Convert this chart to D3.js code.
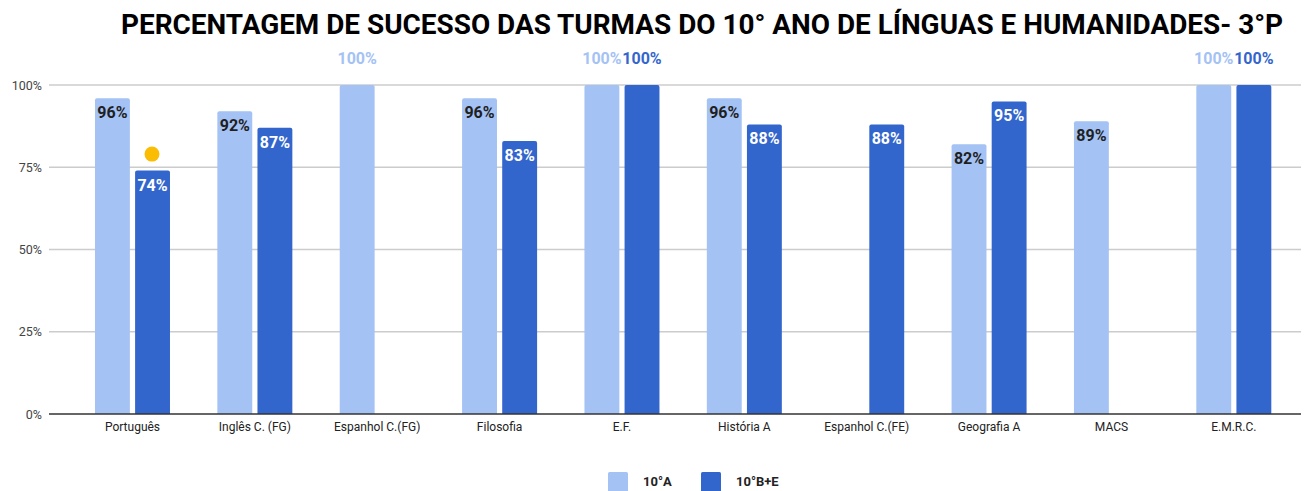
<!DOCTYPE html>
<html>
<head>
<meta charset="utf-8">
<script src="https://cdn.jsdelivr.net/npm/d3@7"></script>
<style>
  html, body { margin: 0; padding: 0; background: #fff; }
  svg { display: block; font-family: Roboto, "Noto Sans", sans-serif; }
</style>
</head>
<body>
<svg id="chart" width="1305" height="491"></svg>
<script>
// Subjects (categories) and success rates per class group (null = no value)
const categories = ["Português", "Inglês C. (FG)", "Espanhol C.(FG)", "Filosofia", "E.F.",
                    "História A", "Espanhol C.(FE)", "Geografia A", "MACS", "E.M.R.C."];
const seriesNames = ["10°A", "10°B+E"];
const values10A  = [96, 92, 100, 96, 100, 96, null, 82, 89, 100];
const values10BE = [74, 87, null, 83, 100, 88, 88, 95, null, 100];
const yTicks = [0, 25, 50, 75, 100];
const colors = ["#a4c2f4", "#3366cc"];
const labelInside = ["#1f1f1f", "#ffffff"];
const titleText = "PERCENTAGEM DE SUCESSO DAS TURMAS DO 10° ANO DE LÍNGUAS E HUMANIDADES- 3°P";
// Marker annotation next to the Português group
const markerPoint = { category: "Português", value: 79 };

const series = [values10A, values10BE];
const svg = d3.select("#chart");

const axisLeft = 49, axisRight = 1301;
const x = d3.scaleBand().domain(categories).range([71.3, 1295]).paddingInner(0).paddingOuter(0);
const x1 = d3.scaleBand().domain([0, 1]).range([x.bandwidth() / 2 - 37.5, x.bandwidth() / 2 + 37.5]).paddingInner(0.13);
const y = d3.scaleLinear().domain([0, 100]).range([414, 85]);

// Title
svg.append("text")
  .attr("x", 121).attr("y", 34)
  .attr("font-size", 27.5).attr("font-weight", "bold").attr("fill", "#000")
  .attr("textLength", 1162).attr("lengthAdjust", "spacingAndGlyphs")
  .text(titleText);

// Gridlines and y tick labels
const yAxis = svg.append("g");
yTicks.forEach(t => {
  if (t > 0) {
    yAxis.append("line")
      .attr("x1", axisLeft).attr("x2", axisRight)
      .attr("y1", y(t)).attr("y2", y(t))
      .attr("stroke", "#cccccc").attr("stroke-width", 1.3);
  }
  yAxis.append("text")
    .attr("x", 42).attr("y", y(t) + 4.5)
    .attr("text-anchor", "end")
    .attr("font-size", 12.5).attr("fill", "#444")
    .text(t + "%");
});

// Bars
const barsG = svg.append("g");
categories.forEach((cat, i) => {
  series.forEach((vals, s) => {
    const v = vals[i];
    if (v == null) return;
    const bx = x(cat) + x1(s);
    const bw = x1.bandwidth();
    const top = y(v), bottom = y(0), r = 2;
    barsG.append("path")
      .attr("d", `M${bx},${bottom} L${bx},${top + r} Q${bx},${top} ${bx + r},${top} L${bx + bw - r},${top} Q${bx + bw},${top} ${bx + bw},${top + r} L${bx + bw},${bottom} Z`)
      .attr("fill", colors[s]);
    const full = v >= 100;
    barsG.append("text")
      .attr("x", bx + bw / 2)
      .attr("y", full ? top - 21 : top + 20)
      .attr("text-anchor", "middle")
      .attr("font-size", 16).attr("font-weight", "bold")
      .attr("fill", full ? colors[s] : labelInside[s])
      .text(v + "%");
  });
});

// Baseline
svg.append("line")
  .attr("x1", axisLeft).attr("x2", axisRight)
  .attr("y1", y(0)).attr("y2", y(0))
  .attr("stroke", "#333").attr("stroke-width", 1.3);

// Category labels
categories.forEach(cat => {
  svg.append("text")
    .attr("x", x(cat) + x.bandwidth() / 2).attr("y", 431)
    .attr("text-anchor", "middle")
    .attr("font-size", 12).attr("fill", "#222")
    .text(cat);
});

// Marker
svg.append("circle")
  .attr("cx", x(markerPoint.category) + x.bandwidth() / 2 + 19.5)
  .attr("cy", y(markerPoint.value))
  .attr("r", 7.5)
  .attr("fill", "#fbbc04");

// Legend
const legendX = [608, 701];
seriesNames.forEach((name, s) => {
  svg.append("rect")
    .attr("x", legendX[s]).attr("y", 472)
    .attr("width", 20).attr("height", 20).attr("rx", 1.5)
    .attr("fill", colors[s]);
  svg.append("text")
    .attr("x", legendX[s] + 35).attr("y", 486)
    .attr("font-size", 13).attr("font-weight", "bold").attr("fill", "#222")
    .text(name);
});
</script>
</body>
</html>
